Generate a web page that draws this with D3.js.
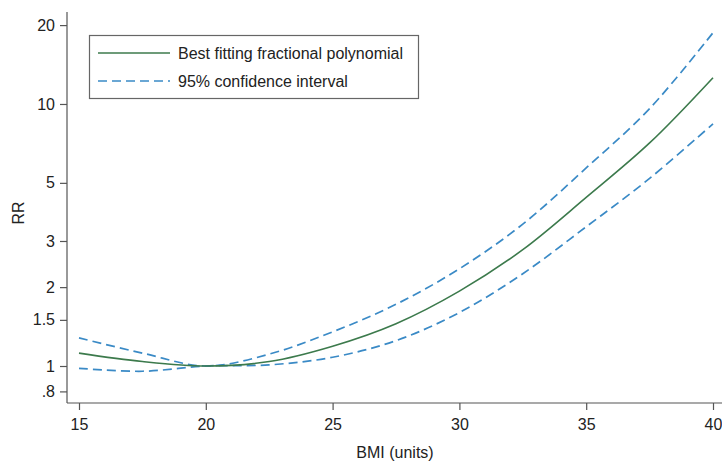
<!DOCTYPE html>
<html>
<head>
<meta charset="utf-8">
<script src="https://cdn.jsdelivr.net/npm/d3@7"></script>
<style>
  body { margin: 0; background: #fff; }
  svg text { font-family: "Liberation Sans", Arial, sans-serif; fill: #222; }
</style>
</head>
<body>
<svg id="chart" width="722" height="461"></svg>
<script>
// values
const bmi = [15, 17.5, 20, 22.5, 25, 27.5, 30, 32.5, 35, 37.5, 40];
const rrFit = [1.12, 1.04, 1.0, 1.04, 1.19, 1.45, 1.93, 2.78, 4.4, 7.1, 12.6];
const rrUpper = [1.28, 1.12, 1.0, 1.11, 1.35, 1.72, 2.35, 3.48, 5.7, 9.6, 18.7];
const rrLower = [0.98, 0.955, 1.0, 1.01, 1.08, 1.25, 1.6, 2.25, 3.4, 5.2, 8.4];
const xTicks = [15, 20, 25, 30, 35, 40];
const yTicks = [0.8, 1, 1.5, 2, 3, 5, 10, 20];
const yTickLabels = [".8", "1", "1.5", "2", "3", "5", "10", "20"];
const legendItems = ["Best fitting fractional polynomial", "95% confidence interval"];

const green = "#3c7a4c",
    blue = "#3a8ac6",
    axisColor = "#555";

const svg = d3.select("#chart");

const x = d3.scaleLinear().domain([15, 40]).range([79, 713]);
const y = d3.scaleLog().domain([0.8, 20]).range([391.4, 25.1]);

// axes
const yAxis = d3.axisLeft(y)
    .tickValues(yTicks)
    .tickFormat((d, i) => yTickLabels[i])
    .tickSize(7)
    .tickPadding(5);
const yG = svg.append("g").attr("transform", "translate(67,0)").call(yAxis);
yG.select(".domain").remove();
yG.append("line").attr("x1", 0).attr("x2", 0).attr("y1", 12).attr("y2", 403);

const xAxis = d3.axisBottom(x).tickValues(xTicks).tickSize(7).tickPadding(9);
const xG = svg.append("g").attr("transform", "translate(0,403)").call(xAxis);
xG.select(".domain").remove();
xG.append("line").attr("x1", 67).attr("x2", 722).attr("y1", 0).attr("y2", 0);

[yG, xG].forEach((g) => {
    g.selectAll("line").attr("stroke", axisColor).attr("stroke-width", 1.2);
    g.selectAll("text")
        .attr("font-size", 16)
        .attr("fill", "#222")
        .style("font-family", "'Liberation Sans', Arial, sans-serif");
});

svg.append("text")
    .attr("x", 395).attr("y", 458)
    .attr("text-anchor", "middle")
    .attr("font-size", 16)
    .text("BMI (units)");

svg.append("text")
    .attr("transform", "translate(24,213) rotate(-90)")
    .attr("text-anchor", "middle")
    .attr("font-size", 16)
    .text("RR");

// curves
function lineFor(vals) {
    return d3.line()
        .x((d, i) => x(bmi[i]))
        .y((d) => y(d))
        .curve(d3.curveCatmullRom.alpha(0.5))(vals);
}

svg.append("path").attr("d", lineFor(rrUpper))
    .attr("fill", "none").attr("stroke", blue)
    .attr("stroke-width", 1.7).attr("stroke-dasharray", "9,5");
svg.append("path").attr("d", lineFor(rrLower))
    .attr("fill", "none").attr("stroke", blue)
    .attr("stroke-width", 1.7).attr("stroke-dasharray", "9,5");
svg.append("path").attr("d", lineFor(rrFit))
    .attr("fill", "none").attr("stroke", green)
    .attr("stroke-width", 1.6);

// legend
const legend = svg.append("g");
legend.append("rect")
    .attr("x", 89.5).attr("y", 35.5)
    .attr("width", 329).attr("height", 63)
    .attr("fill", "#fff").attr("stroke", "#666").attr("stroke-width", 1.2);

legendItems.forEach((label, i) => {
    const ly = 53 + i * 28;
    legend.append("line")
        .attr("x1", 98).attr("x2", 170)
        .attr("y1", ly).attr("y2", ly)
        .attr("stroke", i === 0 ? green : blue)
        .attr("stroke-width", 1.7)
        .attr("stroke-dasharray", i === 0 ? null : "9,5");
    legend.append("text")
        .attr("x", 178).attr("y", ly + 6)
        .attr("font-size", 16)
        .text(label);
});
</script>
</body>
</html>
